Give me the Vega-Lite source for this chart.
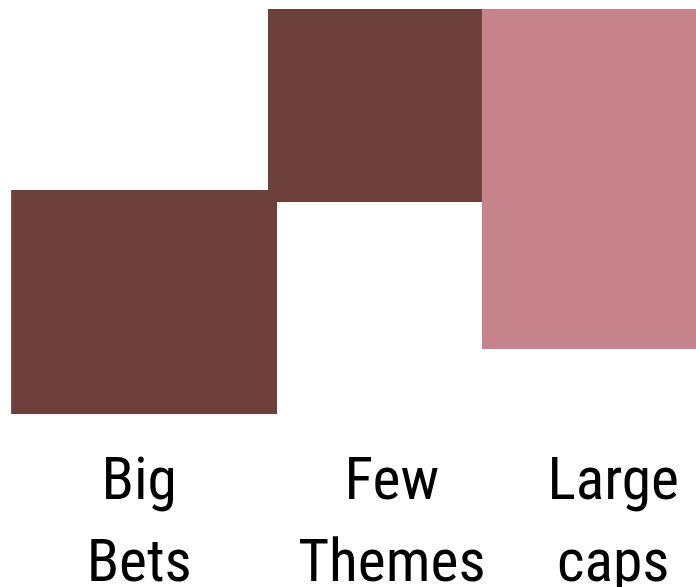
{
  "$schema": "https://vega.github.io/schema/vega-lite/v6.json",
  "width": 696,
  "height": 587,
  "padding": 0,
  "autosize": {"type": "none"},
  "background": "white",
  "config": {"view": {"stroke": null}},
  "datasets": {
    "bars": [
      {"category": "Big Bets", "kind": "A", "start": 1.6, "end": 39.8, "low": 0, "high": 100},
      {"category": "Few Themes", "kind": "A", "start": 38.5, "end": 69.25, "low": 94.6, "high": 180.8},
      {"category": "Large caps", "kind": "B", "start": 69.25, "end": 100, "low": 29.0, "high": 180.8}
    ],
    "labels": [
      {"label": "Big\nBets", "pos": 20.0, "level": -37.95},
      {"label": "Few\nThemes", "pos": 56.3, "level": -37.95},
      {"label": "Large\ncaps", "pos": 88.1, "level": -37.95}
    ]
  },
  "layer": [
    {
      "data": {"name": "bars"},
      "mark": {"type": "rect"},
      "encoding": {
        "x": {"field": "start", "type": "quantitative", "scale": {"domain": [0, 100], "nice": false, "zero": false}, "axis": null},
        "x2": {"field": "end"},
        "y": {"field": "low", "type": "quantitative", "scale": {"domain": [-77.23, 184.82], "nice": false, "zero": false}, "axis": null},
        "y2": {"field": "high"},
        "color": {"field": "kind", "type": "nominal", "scale": {"domain": ["A", "B"], "range": ["#6d403c", "#c6838c"]}, "legend": null}
      }
    },
    {
      "data": {"name": "labels"},
      "mark": {"type": "text", "font": "'Roboto Condensed', 'Arial Narrow', 'DejaVu Sans Condensed', sans-serif", "fontSize": 59.5, "lineHeight": 82, "align": "center", "baseline": "alphabetic", "lineBreak": "\n", "color": "black"},
      "encoding": {
        "x": {"field": "pos", "type": "quantitative"},
        "y": {"field": "level", "type": "quantitative"},
        "text": {"field": "label"}
      }
    }
  ]
}
